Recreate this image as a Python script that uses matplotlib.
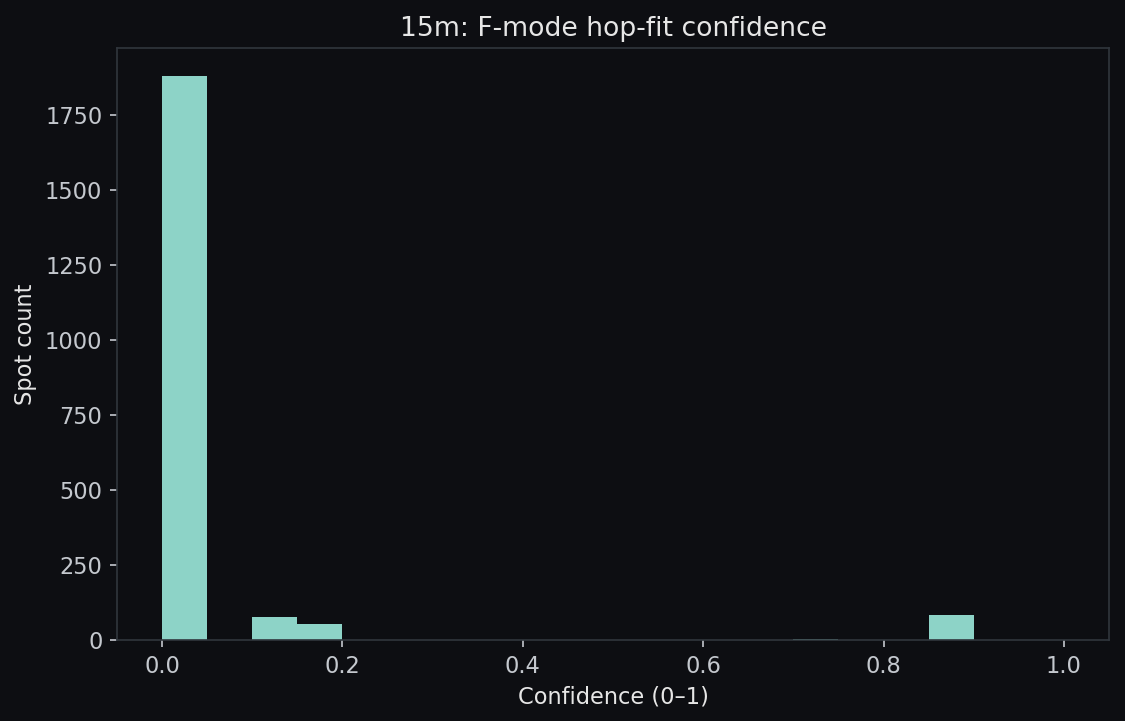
import numpy as np
import matplotlib
matplotlib.use("Agg")
import matplotlib.pyplot as plt

# histogram counts (20 bins over 0..1)
bin_edges = np.linspace(0, 1, 21)
counts = [1878, 0, 78, 52, 0, 1, 0, 0, 0, 0,
          0, 0, 0, 0, 4, 0, 0, 82, 0, 0]

bg = "#0d0e12"
fg = "#e6e6e6"
tick_col = "#c4c8ce"
spine_col = "#30363d"
bar_col = "#8dd3c7"

fig, ax = plt.subplots(figsize=(1125 / 150, 721 / 150), dpi=150)
fig.patch.set_facecolor(bg)
ax.set_facecolor(bg)

centers = (bin_edges[:-1] + bin_edges[1:]) / 2
ax.hist(centers, bins=bin_edges, weights=counts, color=bar_col)

ax.set_title("15m: F-mode hop-fit confidence", color=fg, fontsize=12.8)
ax.set_xlabel("Confidence (0–1)", color=fg, fontsize=10.8)
ax.set_ylabel("Spot count", color=fg, fontsize=10.8)
ax.tick_params(colors=tick_col, labelsize=10.8)
for s in ax.spines.values():
    s.set_color(spine_col)

fig.subplots_adjust(left=117 / 1125, right=1109 / 1125, top=1 - 48 / 721, bottom=1 - 640 / 721)
fig.savefig("out.png", dpi=150, facecolor=bg)
